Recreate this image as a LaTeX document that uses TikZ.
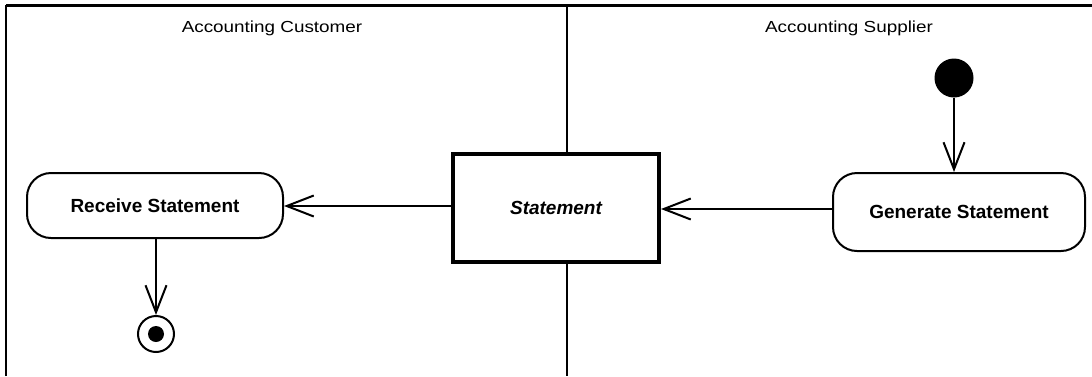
\documentclass[tikz,border=0pt]{standalone}
\usepackage{fontspec}
\setmainfont{Liberation Sans}
\usetikzlibrary{arrows.meta}
\tikzset{
  action/.style={draw, line width=2pt, rounded corners=24pt, fill=white, inner sep=0pt,
    font=\fontsize{19}{22}\selectfont\bfseries},
  objbox/.style={draw, line width=4pt, fill=white, inner sep=0pt,
    font=\fontsize{19}{22}\selectfont\bfseries\itshape},
  lanelabel/.style={inner sep=0pt, font=\fontsize{16}{18}\selectfont},
  flow/.style={line width=2pt, -{Straight Barb[length=27pt,width=21pt,line width=2pt]}},
  startnode/.style={circle, fill=black, minimum size=39pt, inner sep=0pt},
  endnode/.style={circle, draw, line width=2pt, fill=white, minimum size=36pt, inner sep=0pt},
}
\begin{document}
\begin{tikzpicture}[x=1pt,y=-1pt]
\useasboundingbox (0,0) rectangle (1092,376);
% frame
\coordinate (tl) at (6,5);
\coordinate (tr) at (1092,5);
\coordinate (bl) at (6,376);
\coordinate (dtop) at (567,5);
\coordinate (dbot) at (567,376);
\draw[line width=3pt] (tl) -- (tr);
\draw[line width=2.5pt] (bl) -- (tl);
\draw[line width=2pt] (dtop) -- (dbot);
% lane labels
\node[lanelabel] (lane1) at (272,28) {\scalebox{1.18}[1]{Accounting Customer}};
\node[lanelabel] (lane2) at (849,28) {\scalebox{1.18}[1]{Accounting Supplier}};
% nodes
\node[action, minimum width=256pt, minimum height=65pt] (recv) at (155,205.5) {Receive Statement};
\node[objbox, minimum width=206pt, minimum height=108pt] (stmt) at (556,208) {Statement};
\node[action, minimum width=252pt, minimum height=78pt] (gen) at (959,212) {Generate Statement};
\node[startnode] (start) at (954,78) {};
\node[endnode] (final) at (156,334) {};
\fill (final.center) circle[radius=8pt];
% connectors
\draw[flow] (stmt.west |- 0,206) -- (recv.east |- 0,206);
\draw[flow] (gen.west |- 0,209) -- (stmt.east |- 0,209);
\draw[flow] (start.south) -- (start.south |- gen.north);
\draw[flow] (recv.south -| final.north) -- (final.north);
\end{tikzpicture}
\end{document}
